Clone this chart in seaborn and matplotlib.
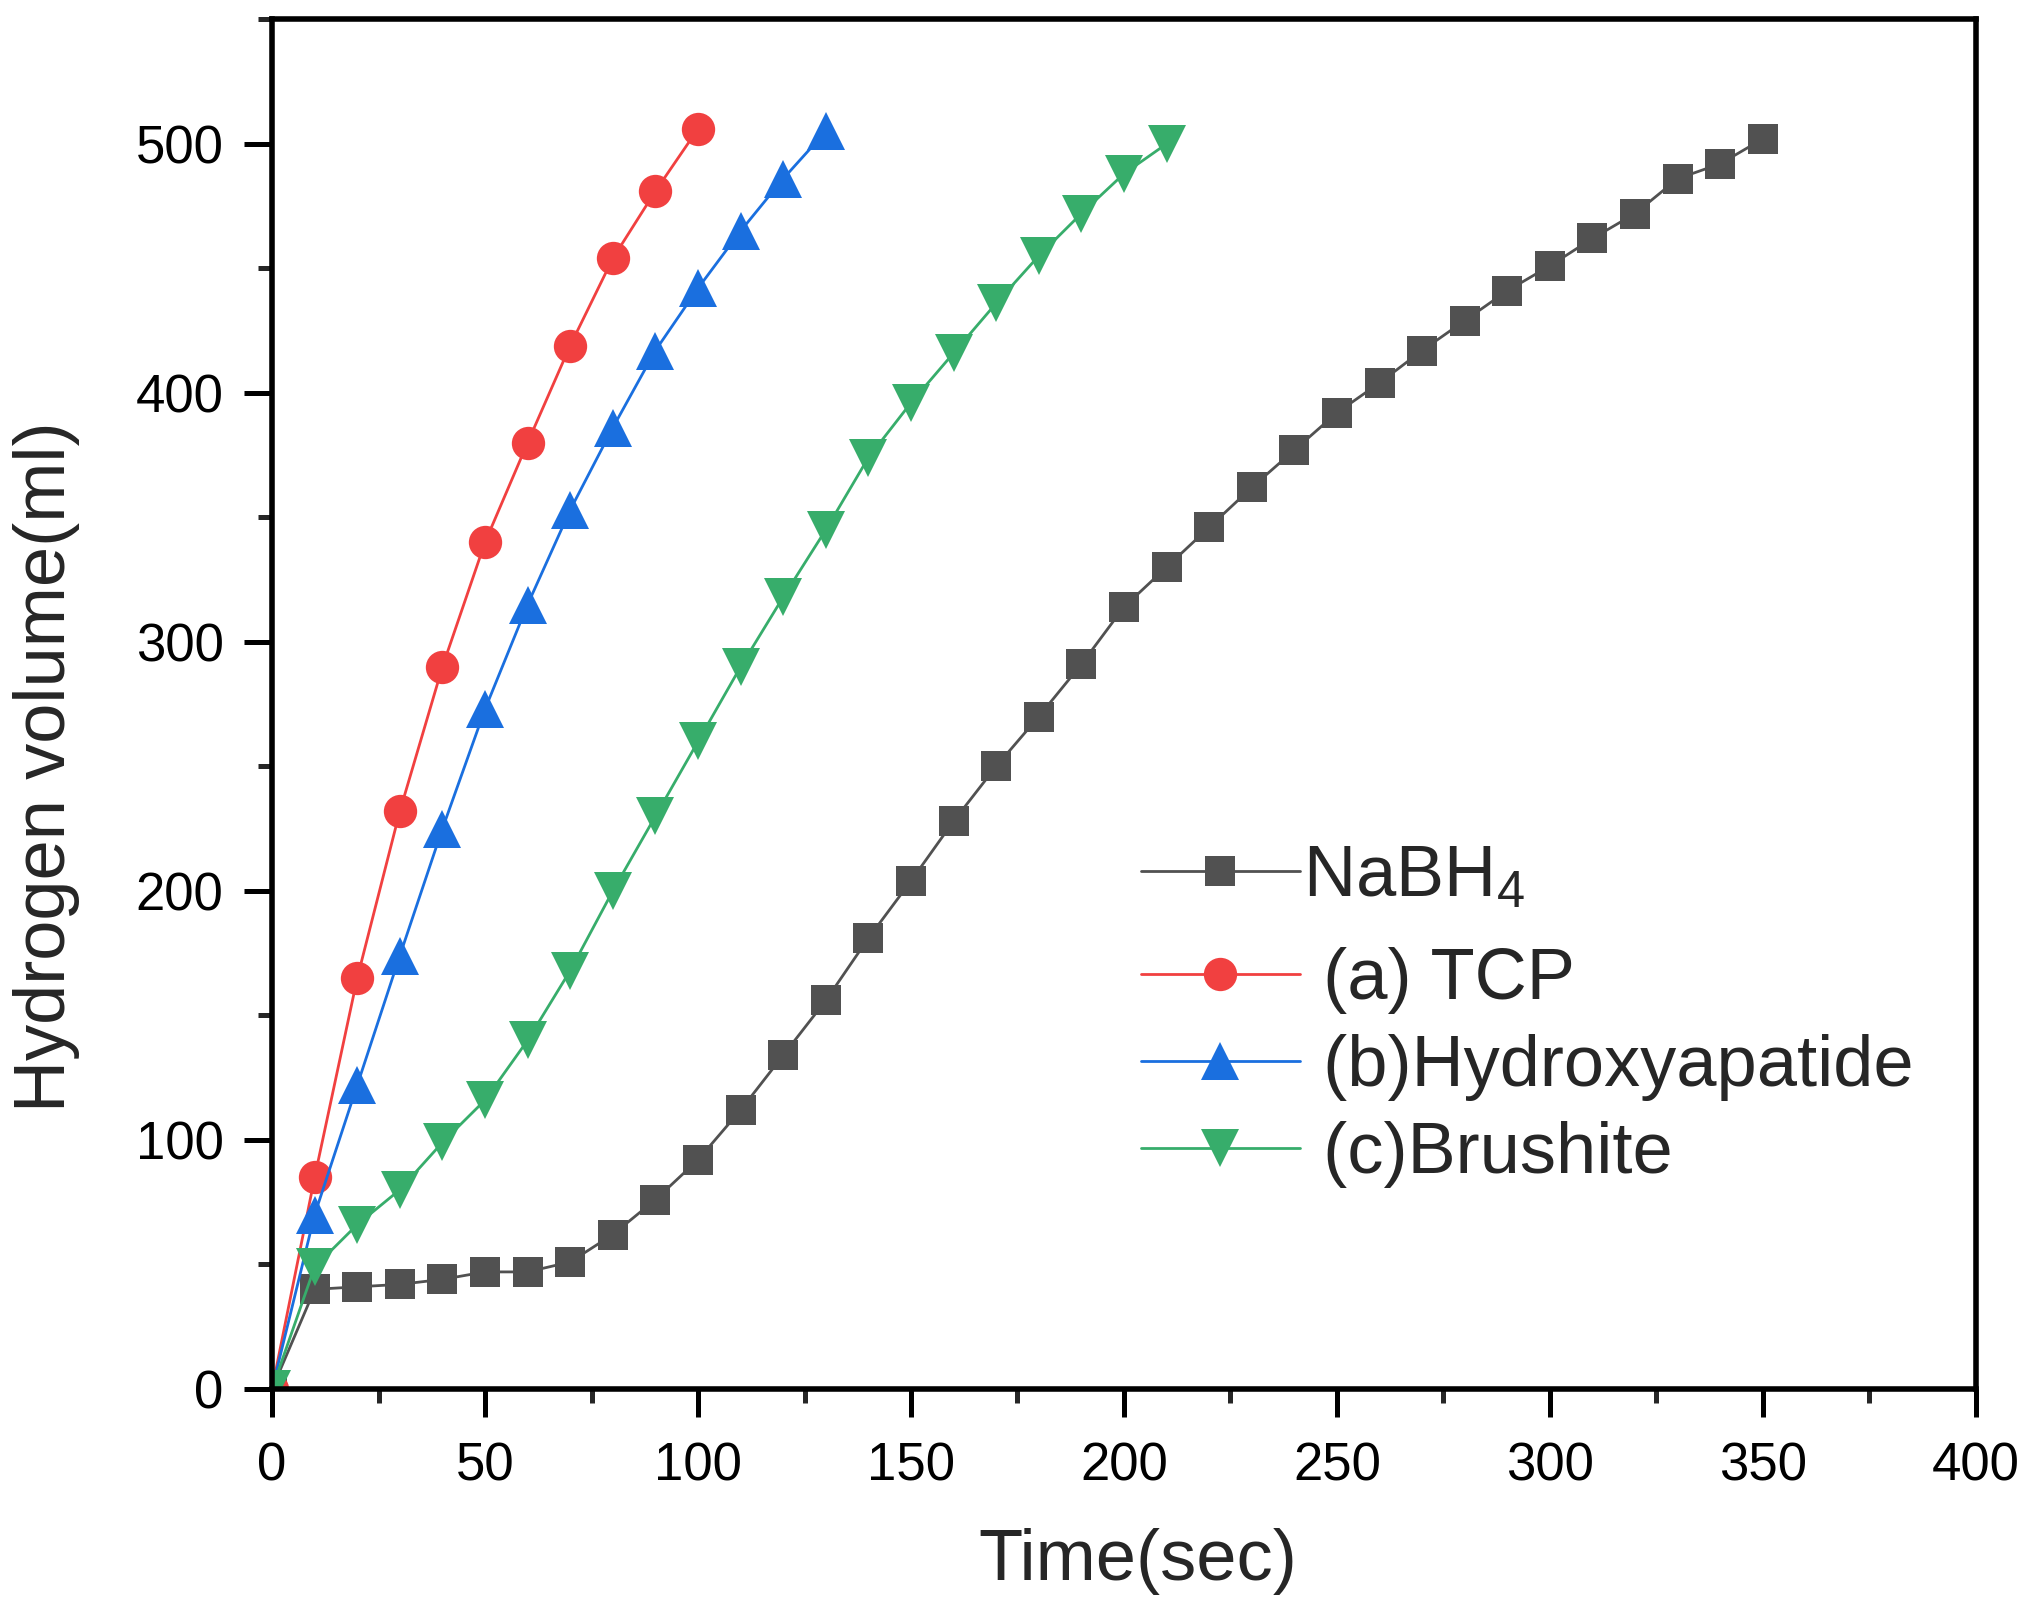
import numpy as np
import pandas as pd
import matplotlib
matplotlib.use("Agg")
import matplotlib.pyplot as plt
import seaborn as sns

# Values
time_nabh4 = list(range(0, 360, 10))
vol_nabh4 = [0, 40, 41, 42, 44, 47, 47, 51, 62, 76, 92, 112, 134, 156, 181, 204,
             228, 250, 270, 291, 314, 330, 346, 362, 377, 392, 404, 417, 429, 441,
             451, 462, 472, 486, 492, 502]

time_tcp = list(range(0, 110, 10))
vol_tcp = [0, 85, 165, 232, 290, 340, 380, 419, 454, 481, 506]

time_hap = list(range(0, 140, 10))
vol_hap = [0, 70, 122, 174, 225, 273, 315, 353, 386, 417, 442, 465, 486, 505]

time_bru = list(range(0, 220, 10))
vol_bru = [0, 49, 66, 80, 99, 116, 140, 168, 200, 230, 260, 290, 318, 345, 374,
           396, 416, 436, 455, 472, 488, 500]

labels = ["NaBH$_4$", " (a) TCP", " (b)Hydroxyapatide", " (c)Brushite"]
colors = ["#515151", "#F14040", "#1A6FDF", "#37AD6B"]
markers = ["s", "o", "^", "v"]
msizes = [21, 24, 27, 27]

sns.set_theme(style="ticks")
plt.rcParams["font.family"] = ["Liberation Sans", "DejaVu Sans"]
plt.rcParams["mathtext.default"] = "regular"

fig = plt.figure(figsize=(20.38, 16.10), dpi=100)
ax = fig.add_axes([0.1335, 0.1373, 0.836, 0.8507])

series = [(time_nabh4, vol_nabh4), (time_tcp, vol_tcp),
          (time_hap, vol_hap), (time_bru, vol_bru)]
for (t, v), lab, c, m, ms in zip(series, labels, colors, markers, msizes):
    df = pd.DataFrame({"Time": t, "Volume": v})
    sns.lineplot(data=df, x="Time", y="Volume", ax=ax, color=c, marker=m,
                 markersize=ms, markeredgewidth=0, linewidth=2, label=lab)

ax.set_xlim(0, 400)
ax.set_ylim(0, 550)
ax.set_xticks(np.arange(0, 401, 50))
ax.set_yticks(np.arange(0, 501, 100))
ax.set_xticks(np.arange(0, 401, 25), minor=True)
ax.set_yticks(np.arange(0, 551, 50), minor=True)

for s in ax.spines.values():
    s.set_linewidth(4)
    s.set_color("black")
ax.tick_params(which="major", direction="out", length=20, width=3.6,
               labelsize=38, colors="black")
ax.tick_params(axis="x", which="major", pad=18)
ax.tick_params(axis="y", which="major", pad=15)
ax.tick_params(which="minor", direction="out", length=10, width=3.6)

ax.set_xlabel("Time(sec)", fontsize=52, labelpad=26)
ax.set_ylabel("Hydrogen volume(ml)", fontsize=52)
ax.xaxis.label.set_x(0.508)
ax.yaxis.set_label_coords(-0.1127, 0.454)

# legend split in two so the subscript row gets its extra room
handles, labs = ax.get_legend_handles_labels()
leg_opts = dict(frameon=False, fontsize=52, handlelength=2.2, handletextpad=0.05,
                labelspacing=0.28, borderpad=0, borderaxespad=0, loc="center left")
leg1 = ax.legend(handles[:1], labs[:1], bbox_to_anchor=(0.510, 0.3729), **leg_opts)
ax.add_artist(leg1)
ax.legend(handles[1:], labs[1:], bbox_to_anchor=(0.510, 0.2345), **leg_opts)

fig.savefig("out.png", dpi=100)
